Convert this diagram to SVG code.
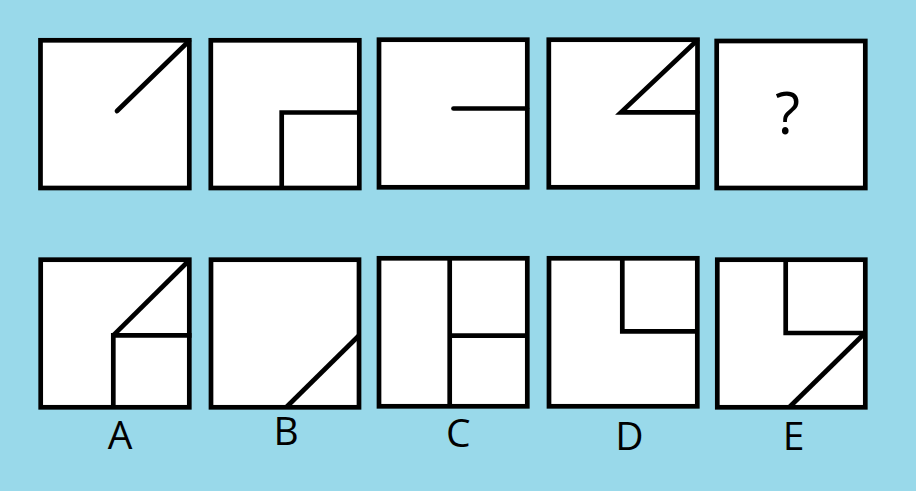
<svg xmlns="http://www.w3.org/2000/svg" width="916" height="491" viewBox="0 0 916 491">
<style>
.box{fill:#fff;stroke:#000;stroke-width:4.7}
.ln{fill:none;stroke:#000;stroke-width:4.7;stroke-linecap:round;stroke-linejoin:miter}
.lbl{font-family:"Open Sans","Noto Sans","Liberation Sans",sans-serif;font-size:39px;fill:#000;text-anchor:middle}
</style>
<rect width="916" height="491" fill="#99D9EA"/>
<g id="q1">
<rect class="box" x="40.5" y="40.3" width="148.8" height="147.7"/>
<line class="ln" x1="117" y1="111" x2="189" y2="41"/>
</g>
<g id="q2">
<rect class="box" x="210.8" y="40.3" width="148.5" height="147.7"/>
<polyline class="ln" style="stroke-linecap:butt" points="359.3,112.5 281.7,112.5 281.7,188"/>
</g>
<g id="q3">
<rect class="box" x="379" y="39.7" width="148.3" height="147.6"/>
<line class="ln" x1="453.5" y1="108.5" x2="527" y2="108.5"/>
</g>
<g id="q4">
<rect class="box" x="548.8" y="39.7" width="148.7" height="147.6"/>
<polyline class="ln" points="697,40.5 621,112.3 697.5,112.3"/>
</g>
<g id="q5">
<rect class="box" x="716.7" y="41" width="148.6" height="147"/>
<text class="lbl" x="787.5" y="134" style="font-size:58px">?</text>
</g>
<g id="optA">
<rect class="box" x="40.7" y="259.7" width="148.6" height="147.6"/>
<polyline class="ln" style="stroke-linecap:butt" points="113.3,407.3 113.3,335.3 191.5,335.3"/>
<line class="ln" style="stroke-linecap:butt" x1="113.3" y1="335.3" x2="189.5" y2="260"/>
<text class="lbl" x="120" y="449">A</text>
</g>
<g id="optB">
<rect class="box" x="211" y="259.7" width="148" height="147.6"/>
<line class="ln" style="stroke-linecap:butt" x1="286.5" y1="407" x2="359" y2="335.5"/>
<text class="lbl" x="286" y="445">B</text>
</g>
<g id="optC">
<rect class="box" x="379" y="258.3" width="148.3" height="148"/>
<line class="ln" style="stroke-linecap:butt" x1="449.7" y1="258.3" x2="449.7" y2="406.3"/>
<line class="ln" style="stroke-linecap:butt" x1="449.7" y1="335.7" x2="527.3" y2="335.7"/>
<text class="lbl" x="458.3" y="447">C</text>
</g>
<g id="optD">
<rect class="box" x="549" y="258.3" width="148.3" height="148"/>
<polyline class="ln" style="stroke-linecap:butt" points="622.3,258.3 622.3,331.3 697.3,331.3"/>
<text class="lbl" x="629.5" y="450">D</text>
</g>
<g id="optE">
<rect class="box" x="717.3" y="259.7" width="148" height="147.6"/>
<polyline class="ln" style="stroke-linecap:butt" points="785.7,259.7 785.7,333 865.3,333"/>
<line class="ln" style="stroke-linecap:butt" x1="789.5" y1="407" x2="865" y2="333"/>
<text class="lbl" x="793.5" y="450">E</text>
</g>
</svg>
